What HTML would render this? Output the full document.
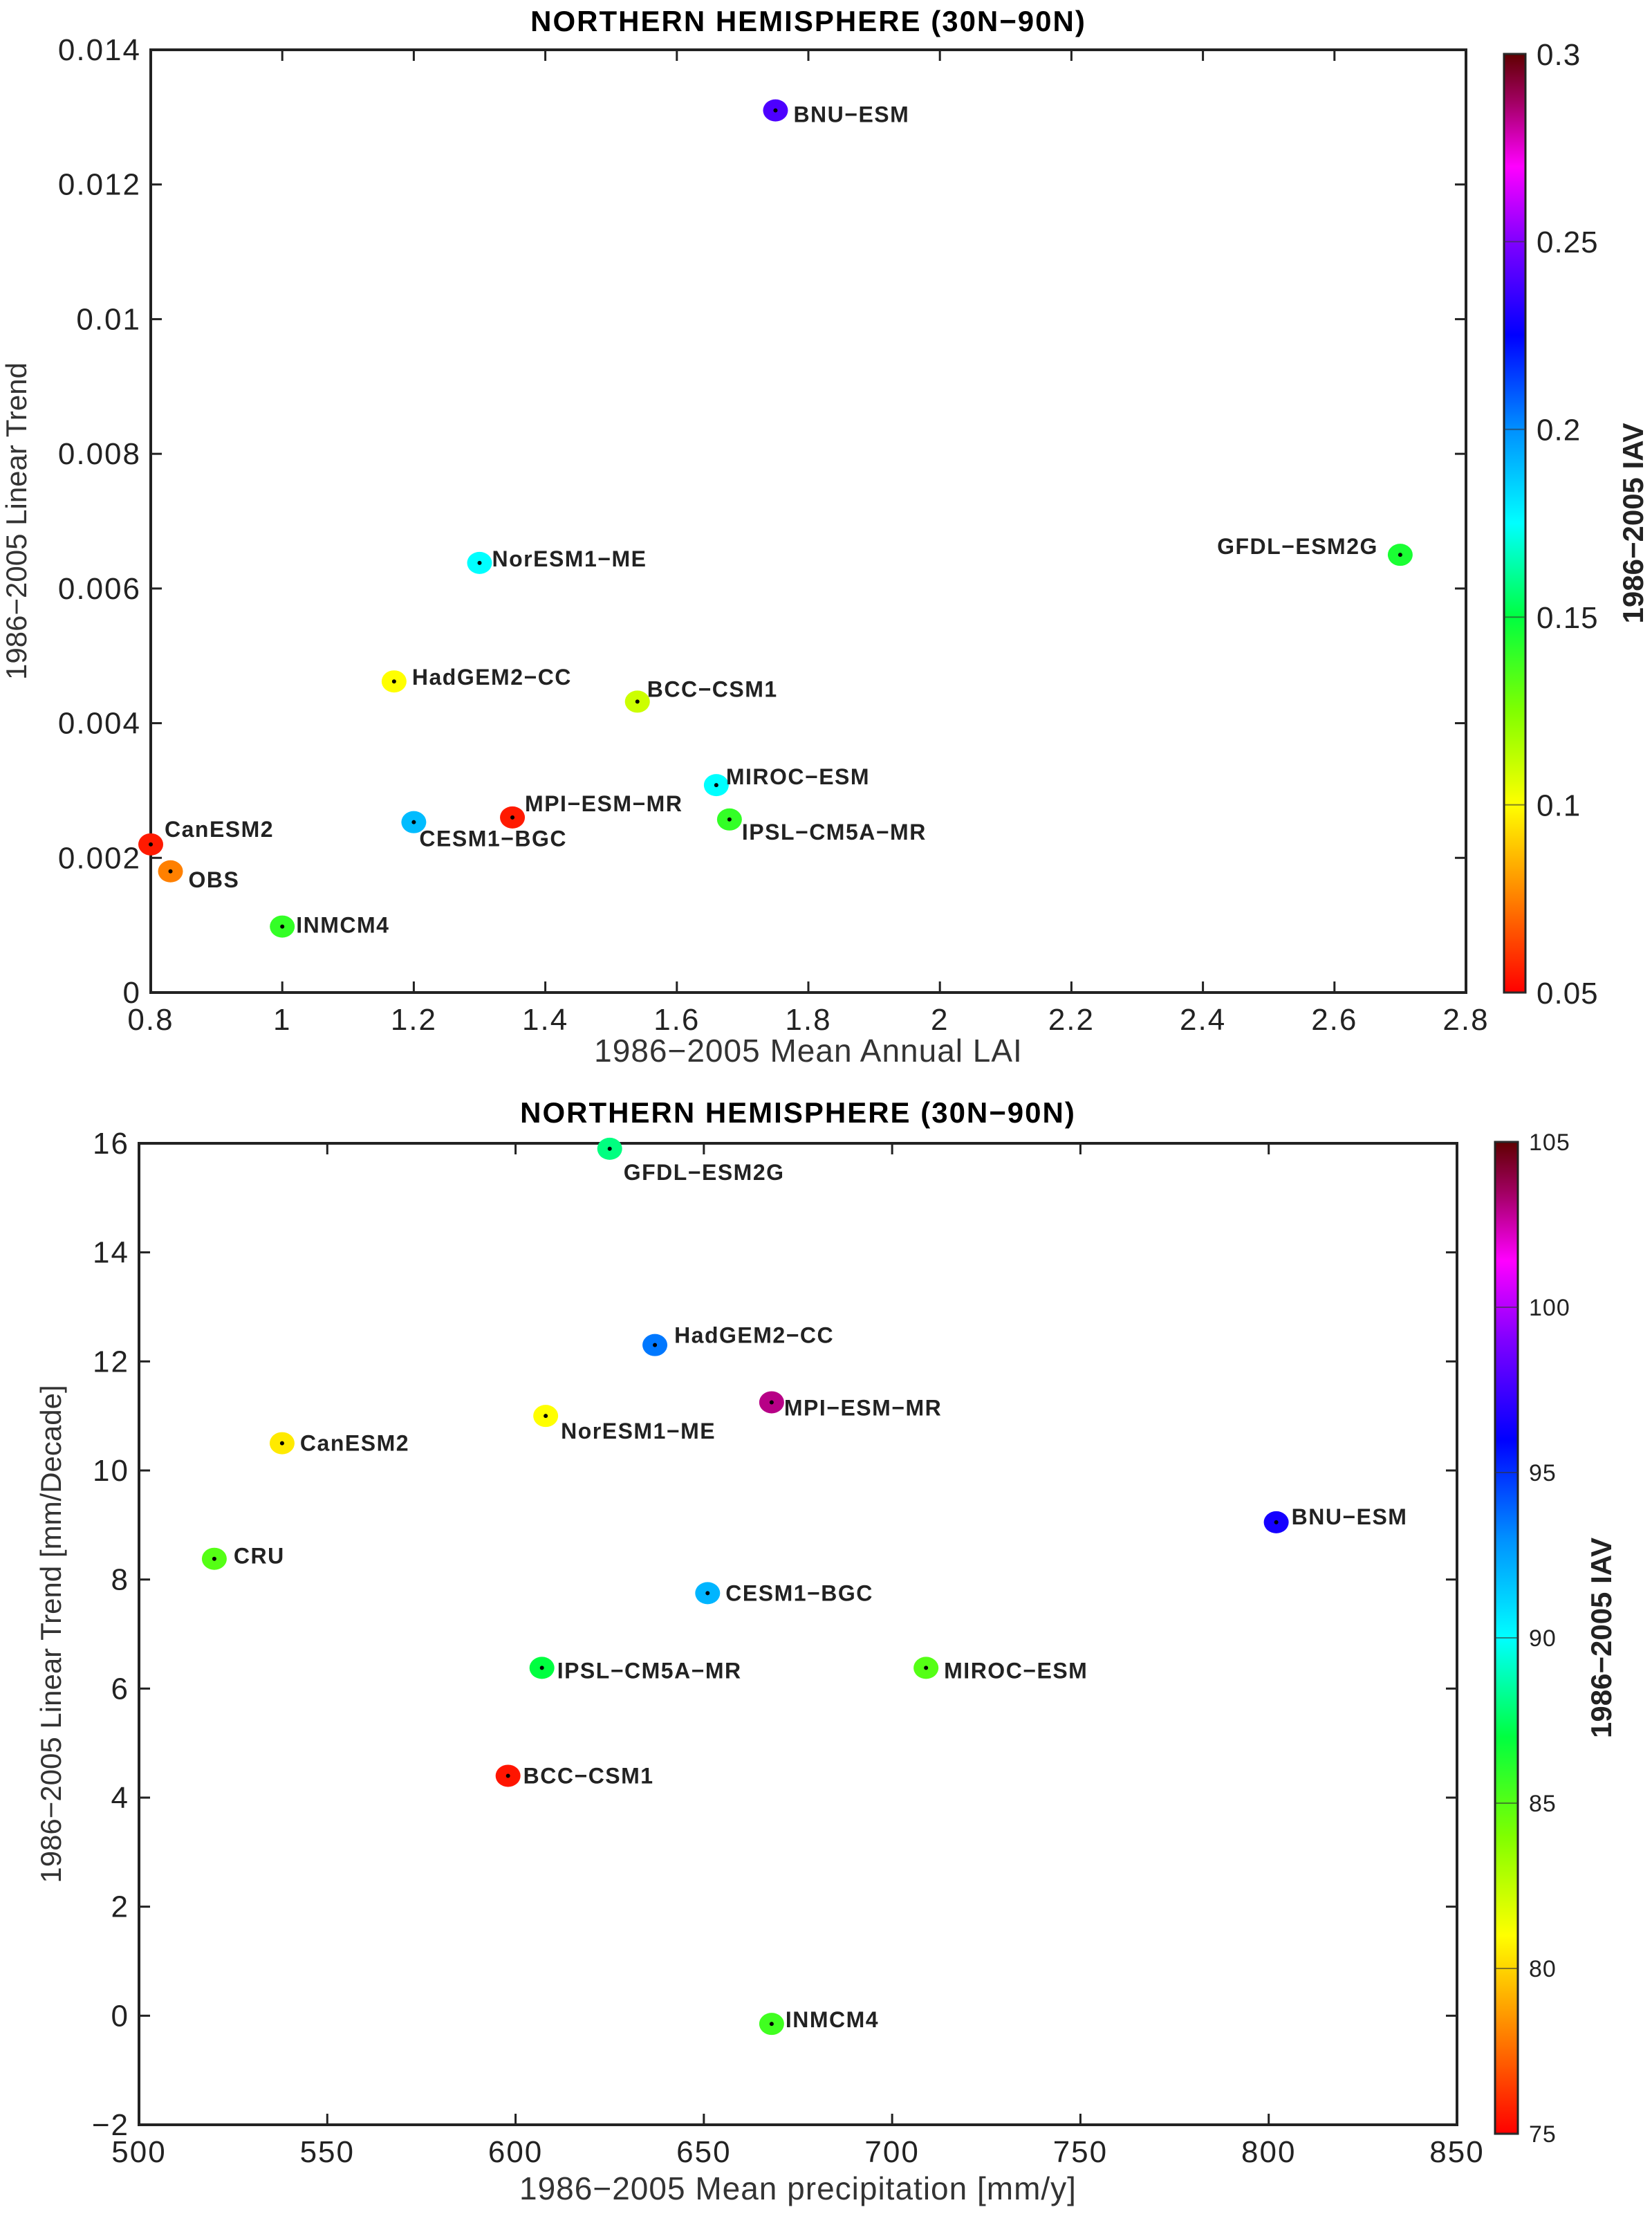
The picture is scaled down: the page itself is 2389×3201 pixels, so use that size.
<!DOCTYPE html>
<html><head><meta charset="utf-8"><style>
html,body{margin:0;padding:0;background:#fff;}
svg{display:block;font-family:"Liberation Sans",sans-serif;}
</style></head><body>
<svg id="fig" width="2389" height="3201" viewBox="0 0 2389 3201" xmlns="http://www.w3.org/2000/svg">
<defs>
<linearGradient id="cmap" x1="0" y1="1" x2="0" y2="0">
<stop offset="0" stop-color="#ff0000"/><stop offset="0.1" stop-color="#ff8000"/><stop offset="0.2" stop-color="#ffff00"/><stop offset="0.3" stop-color="#80ff00"/><stop offset="0.4" stop-color="#00ff40"/><stop offset="0.5" stop-color="#00ffff"/><stop offset="0.6" stop-color="#0090ff"/><stop offset="0.7" stop-color="#0000ff"/><stop offset="0.8" stop-color="#8000ff"/><stop offset="0.88" stop-color="#ff00ff"/><stop offset="0.95" stop-color="#a00060"/><stop offset="1" stop-color="#600000"/>
</linearGradient>
</defs>
</svg>
<script>
// Chart 1 data
const models1 = ["BNU-ESM","GFDL-ESM2G","NorESM1-ME","HadGEM2-CC","BCC-CSM1","MIROC-ESM","MPI-ESM-MR","CESM1-BGC","IPSL-CM5A-MR","CanESM2","OBS","INMCM4"];
const lai1 = [1.75,2.70,1.30,1.17,1.54,1.66,1.35,1.20,1.68,0.80,0.83,1.00];
const trend1 = [0.0131,0.0065,0.00638,0.00462,0.00432,0.00308,0.0026,0.00253,0.00257,0.0022,0.0018,0.00098];
const iav1 = [0.24,0.145,0.175,0.10,0.11,0.175,0.055,0.19,0.14,0.055,0.075,0.14];
const xTicks1 = ["0.8","1","1.2","1.4","1.6","1.8","2","2.2","2.4","2.6","2.8"];
const yTicks1 = ["0","0.002","0.004","0.006","0.008","0.01","0.012","0.014"];
const cTicks1 = ["0.05","0.1","0.15","0.2","0.25","0.3"];
// Chart 2 data
const models2 = ["GFDL-ESM2G","HadGEM2-CC","MPI-ESM-MR","NorESM1-ME","CanESM2","BNU-ESM","CRU","CESM1-BGC","IPSL-CM5A-MR","MIROC-ESM","BCC-CSM1","INMCM4"];
const precip2 = [625,637,668,608,538,802,520,651,607,709,598,668];
const trend2 = [15.9,12.3,11.25,11.0,10.5,9.05,8.38,7.75,6.38,6.38,4.4,-0.15];
const iav2 = [88,93.5,103,81,80.5,96.5,85,92,87,85,75.5,85.5];
const xTicks2 = ["500","550","600","650","700","750","800","850"];
const yTicks2 = ["-2","0","2","4","6","8","10","12","14","16"];
const cTicks2 = ["75","80","85","90","95","100","105"];
// label offsets (layout, px)
const off1 = [[26,6,"start"],[-32,-12,"end"],[18,-6,"start"],[26,-6,"start"],[14,-18,"start"],[14,-12,"start"],[18,-20,"start"],[8,24,"start"],[18,18,"start"],[20,-22,"start"],[26,12,"start"],[20,-2,"start"]];
const off2 = [[20,34,"start"],[28,-14,"start"],[18,8,"start"],[22,22,"start"],[26,0,"start"],[22,-8,"start"],[28,-4,"start"],[26,0,"start"],[22,4,"start"],[26,4,"start"],[22,0,"start"],[20,-6,"start"]];

const NS="http://www.w3.org/2000/svg";
const svg=document.getElementById("fig");
function mk(tag,attrs,parent,text){const e=document.createElementNS(NS,tag);for(const k in attrs)e.setAttribute(k,attrs[k]);if(text!==undefined)e.textContent=text;(parent||svg).appendChild(e);return e;}
const stops=[[0,[255,0,0]],[0.1,[255,128,0]],[0.2,[255,255,0]],[0.3,[128,255,0]],[0.4,[0,255,64]],[0.5,[0,255,255]],[0.6,[0,144,255]],[0.7,[0,0,255]],[0.8,[128,0,255]],[0.88,[255,0,255]],[0.95,[160,0,96]],[1,[96,0,0]]];
function cmap(t){t=Math.max(0,Math.min(1,t));for(let i=1;i<stops.length;i++){if(t<=stops[i][0]){const a=stops[i-1],b=stops[i];const f=(t-a[0])/(b[0]-a[0]);const c=a[1].map((v,j)=>Math.round(v+(b[1][j]-v)*f));return `rgb(${c[0]},${c[1]},${c[2]})`;}}return "rgb(96,0,0)";}

function chart(cfg){
  const g=mk("g",{});
  
  
  const {L,R,T,B}=cfg;
  const xs=v=>L+(v-cfg.xmin)/(cfg.xmax-cfg.xmin)*(R-L);
  const ys=v=>B-(v-cfg.ymin)/(cfg.ymax-cfg.ymin)*(B-T);
  const t=mk("text",{x:(L+R)/2,y:cfg.titleY,"text-anchor":"middle","font-size":42,"font-weight":"bold","letter-spacing":2},g,"NORTHERN HEMISPHERE (30N\u221290N)");
  
  
  const fr=mk("rect",{x:L,y:T,width:R-L,height:B-T,fill:"none",stroke:"#222","stroke-width":4},g);
  
  
  cfg.xt.forEach(s=>{const v=parseFloat(s);const x=xs(v);
    mk("line",{x1:x,y1:B,x2:x,y2:B-16,stroke:"#222","stroke-width":3},g);
    mk("line",{x1:x,y1:T,x2:x,y2:T+16,stroke:"#222","stroke-width":3},g);
    const e=mk("text",{x:x,y:B+54,"text-anchor":"middle","font-size":44,"letter-spacing":2,fill:"#222"},g,s.replace("-","\u2212"));
    
    });
  cfg.yt.forEach(s=>{const v=parseFloat(s);const y=ys(v);
    mk("line",{x1:L,y1:y,x2:L+16,y2:y,stroke:"#222","stroke-width":3},g);
    mk("line",{x1:R,y1:y,x2:R-16,y2:y,stroke:"#222","stroke-width":3},g);
    const e=mk("text",{x:L-14,y:y+15,"text-anchor":"end","font-size":44,"letter-spacing":2,fill:"#222"},g,s.replace("-","\u2212"));
    
    });
  const xl=mk("text",{x:(L+R)/2,y:cfg.xlabY,"text-anchor":"middle","font-size":46,"letter-spacing":1,fill:"#333"},g,cfg.xlab);
  
  
  const yl=mk("text",{x:0,y:0,"text-anchor":"middle","font-size":42,fill:"#333",transform:`translate(${cfg.ylabX},${(T+B)/2}) rotate(-90)`},g,cfg.ylab);
  
  
  // colorbar
  const cb=mk("rect",{x:cfg.cL,y:cfg.cT,width:cfg.cW,height:cfg.cB-cfg.cT,fill:"url(#cmap)",stroke:"#222","stroke-width":3},g);
  
  
  const cs=v=>cfg.cB-(v-cfg.cmin)/(cfg.cmax-cfg.cmin)*(cfg.cB-cfg.cT);
  cfg.ct.forEach(s=>{const y=cs(parseFloat(s));
    mk("line",{x1:cfg.cL,y1:y,x2:cfg.cL+cfg.cW,y2:y,stroke:"#333","stroke-width":2,"stroke-opacity":0.6},g);
    const e=mk("text",{x:cfg.cL+cfg.cW+16,y:y+cfg.cfs*0.36,"font-size":cfg.cfs,"letter-spacing":1,fill:"#222"},g,s);
    
    });
  const ct=mk("text",{x:0,y:0,"text-anchor":"middle","font-size":42,"font-weight":"bold",fill:"#222",transform:`translate(${cfg.ctX},${(cfg.cT+cfg.cB)/2}) rotate(-90)`},g,"1986\u22122005 IAV");
  
  
  // points
  cfg.names.forEach((n,i)=>{const x=xs(cfg.xv[i]),y=ys(cfg.yv[i]);
    const c=mk("ellipse",{cx:x,cy:y,rx:18,ry:16,fill:cmap((cfg.cv[i]-cfg.cmin)/(cfg.cmax-cfg.cmin))},g);
    
    
    mk("circle",{cx:x,cy:y,r:3,fill:"#000"},g);
    const o=cfg.off[i];
    const l=mk("text",{x:x+o[0],y:y+o[1]+11,"text-anchor":o[2],"font-size":32,"font-weight":"bold","letter-spacing":1.5,fill:"#222"},g,n.replace(/-/g,"\u2212"));
    
    });
}
chart({name:"lai-chart",L:218,R:2120,T:72,B:1435,xmin:0.8,xmax:2.8,ymin:0,ymax:0.014,xt:xTicks1,yt:yTicks1,
  titleY:45,xlab:"1986\u22122005 Mean Annual LAI",xlabY:1535,ylab:"1986\u22122005 Linear Trend",ylabX:38,
  cL:2175,cT:78,cB:1435,cW:31,cmin:0.05,cmax:0.3,ct:cTicks1,cfs:44,ctX:2376,
  names:models1,xv:lai1,yv:trend1,cv:iav1,off:off1});
chart({name:"precip-chart",L:201,R:2107,T:1653,B:3072,xmin:500,xmax:850,ymin:-2,ymax:16,xt:xTicks2,yt:yTicks2,
  titleY:1623,xlab:"1986\u22122005 Mean precipitation [mm/y]",xlabY:3180,ylab:"1986\u22122005 Linear Trend [mm/Decade]",ylabX:88,
  cL:2162,cT:1651,cB:3085,cW:33,cmin:75,cmax:105,ct:cTicks2,cfs:34,ctX:2330,
  names:models2,xv:precip2,yv:trend2,cv:iav2,off:off2});
</script>
</body></html>
